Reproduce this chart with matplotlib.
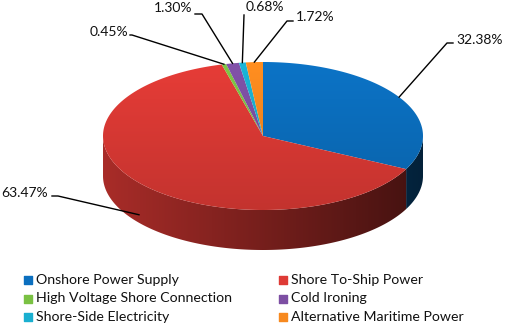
import numpy as np
import matplotlib.pyplot as plt
from matplotlib.patches import Polygon
from matplotlib.colors import to_rgb

plt.rcParams['font.family'] = ['Lato', 'DejaVu Sans']

labels = ["Onshore Power Supply", "Shore To-Ship Power", "High Voltage Shore Connection",
          "Cold Ironing", "Shore-Side Electricity", "Alternative Maritime Power"]
shares = [32.38, 63.47, 0.45, 1.30, 0.68, 1.72]
pct_labels = ["32.38%", "63.47%", "0.45%", "1.30%", "0.68%", "1.72%"]
colors = ["#0B6FBF", "#DE3A35", "#7AC143", "#7D4FA3", "#1AAFD0", "#F7891F"]

# pie geometry in pixels
CX, CY, A, B, DEPTH = 263, 136, 160, 74, 40

# leader line elbow, tail end, text position, alignment
elbows = [(447, 43), (58, 196), (132, 35), (202, 14), (244, 15), (287, 21)]
tails = [(453, 43), (52, 196), (130, 35), (195, 14), (244, 15), (293, 21)]
text_pos = [(456, 40), (48, 193), (128, 32), (192, 8), (246, 7), (296, 17)]
text_ha = ["left", "right", "right", "right", "left", "left"]


def rim(t):
    return CX + A * np.cos(t), CY - B * np.sin(t)


fig = plt.figure(figsize=(5.05, 3.26), dpi=100)
ax = fig.add_axes([0, 0, 1, 1])
ax.set_xlim(0, 505)
ax.set_ylim(326, 0)
ax.axis('off')

edges = np.radians(90 - np.cumsum([0] + shares) / 100 * 360)

# side of the cylinder (front half only), horizontal gradient
W = 400
xx = np.linspace(0, 1, W)[None, :] * np.ones((20, 1))
side_shade = 0.76 - 0.46 * xx
for i, c in enumerate(colors):
    ts = np.linspace(edges[i], edges[i + 1], 400)
    ts = ts[np.sin(ts) < 0]
    if len(ts) < 2:
        continue
    top = [rim(t) for t in ts]
    bot = [(x, y + DEPTH) for x, y in top[::-1]]
    poly = Polygon(top + bot, closed=True, fc='none', ec='none')
    ax.add_patch(poly)
    img = np.clip(np.array(to_rgb(c))[None, None, :] * side_shade[:, :, None], 0, 1)
    im = ax.imshow(img, extent=(CX - A, CX + A, CY + B + DEPTH, CY), origin='upper',
                   interpolation='bilinear', aspect='auto', zorder=1)
    im.set_clip_path(poly)

# top face with a soft vertical gradient
H = 200
yy = np.linspace(0, 1, H)[:, None] * np.ones((1, W))
shade = 1.04 - 0.16 * yy
for i, c in enumerate(colors):
    ts = np.linspace(edges[i], edges[i + 1], 200)
    pts = [(CX, CY)] + [rim(t) for t in ts]
    poly = Polygon(pts, closed=True, fc='none', ec='none')
    ax.add_patch(poly)
    img = np.clip(np.array(to_rgb(c))[None, None, :] * shade[:, :, None], 0, 1)
    im = ax.imshow(img, extent=(CX - A, CX + A, CY + B, CY - B), origin='upper',
                   interpolation='bilinear', aspect='auto', zorder=2)
    im.set_clip_path(poly)

# leader lines and percentage labels
for i in range(len(shares)):
    m = (edges[i] + edges[i + 1]) / 2
    axx, ayy = rim(m)
    if np.sin(m) < 0:
        ayy += DEPTH * 0.8
    ex, ey = elbows[i]
    tx, ty = tails[i]
    ax.plot([axx, ex, tx], [ayy, ey, ty], color='black', lw=1.0, zorder=3)
    ax.text(text_pos[i][0], text_pos[i][1], pct_labels[i], ha=text_ha[i], va='center',
            fontsize=10, color='#111111', zorder=4)

# legend
for i, (lab, c) in enumerate(zip(labels, colors)):
    col, row = i % 2, i // 2
    x = 28 + col * 255
    y = 280 + row * 18.5
    ax.scatter([x], [y], marker='s', s=40, color=c, zorder=4)
    ax.text(x + 8, y, lab, ha='left', va='center', fontsize=10.2, color='#111111')

fig.savefig("out.png", dpi=100, facecolor="white")
